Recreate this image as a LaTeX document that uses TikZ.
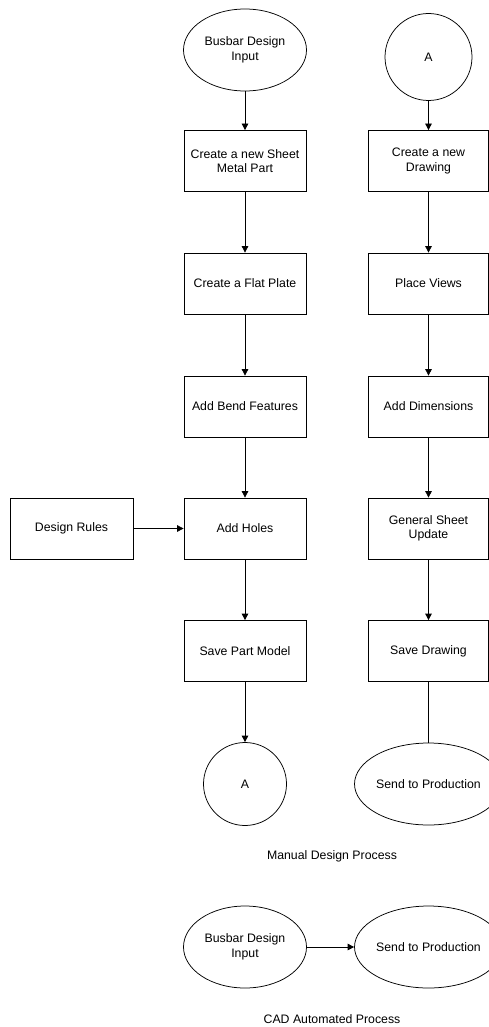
\documentclass[tikz,border=0pt]{standalone}
\usepackage{fontspec}
\setmainfont{Liberation Sans}
\usetikzlibrary{shapes.geometric,arrows.meta}

\tikzset{
  stepbox/.style={draw, line width=0.75pt, minimum width=122pt, minimum height=61pt, align=center, inner sep=2pt},
  term/.style={draw, ellipse, line width=0.75pt, minimum width=123pt, minimum height=82pt, align=center, inner sep=0pt},
  conn/.style={draw, circle, line width=0.75pt, minimum size=#1, inner sep=0pt},
  flow/.style={line width=0.75pt, -{Triangle[length=6.5pt,width=6.5pt]}}
}

\begin{document}
\begin{tikzpicture}[x=1pt, y=-1pt, font=\fontsize{12.3}{14.5}\selectfont]

  \clip (0,0) rectangle (489,1027);

	%left column
 \def\cx{245};
    \foreach \y/\txt/\name in {161/{Create a new Sheet\\Metal Part}/L1, 283.5/{Create a Flat Plate}/L2, 406.5/{Add Bend Features}/L3, 528.5/{Add Holes}/L4, 651/{Save Part Model}/L5}{
           \node[stepbox] (\name) at (\cx, \y) {\txt};
    }

	%right column
 \def\cx{428.5};
    \foreach \y/\txt/\name in {161/{Create a new\\Drawing}/R1, 283.5/{Place Views}/R2, 406.5/{Add Dimensions}/R3, 528.5/{General Sheet\\Update}/R4, 651/{Save Drawing}/R5}{
           \node[stepbox, minimum width=120pt] (\name) at (\cx, \y) {\txt};
    }

    \node[term] (input) at (245, 50) {Busbar Design\\Input};
    \node[conn=87pt] (Atop) at (428.5, 57) {A};
    \node[conn=83pt] (Abot) at (245, 784) {A};
    \node[term, minimum width=121pt] (send) at (428.5, 784) {Send to Production};
    \node[stepbox, minimum width=123pt] (rules) at (71.5, 528.5) {Design Rules};

	%arrows
    \draw[flow] (input) -- (L1);
    \foreach \a/\b in {L1/L2, L2/L3, L3/L4, L4/L5, L5/Abot, Atop/R1, R1/R2, R2/R3, R3/R4, R4/R5}{
         \draw[flow] (\a) -- (\b);
    }
    \draw[line width=0.75pt] (R5) -- (send);
    \draw[flow] (rules) -- (L4);

    \node (manual) at (332, 856) {Manual Design Process};

	%automated
    \node[term] (input2) at (245, 947) {Busbar Design\\Input};
    \node[term, minimum width=121pt] (send2) at (428.5, 947) {Send to Production};
    \draw[flow] (input2) -- (send2);

    \node (cad) at (332, 1019) {CAD Automated Process};

\end{tikzpicture}
\end{document}
